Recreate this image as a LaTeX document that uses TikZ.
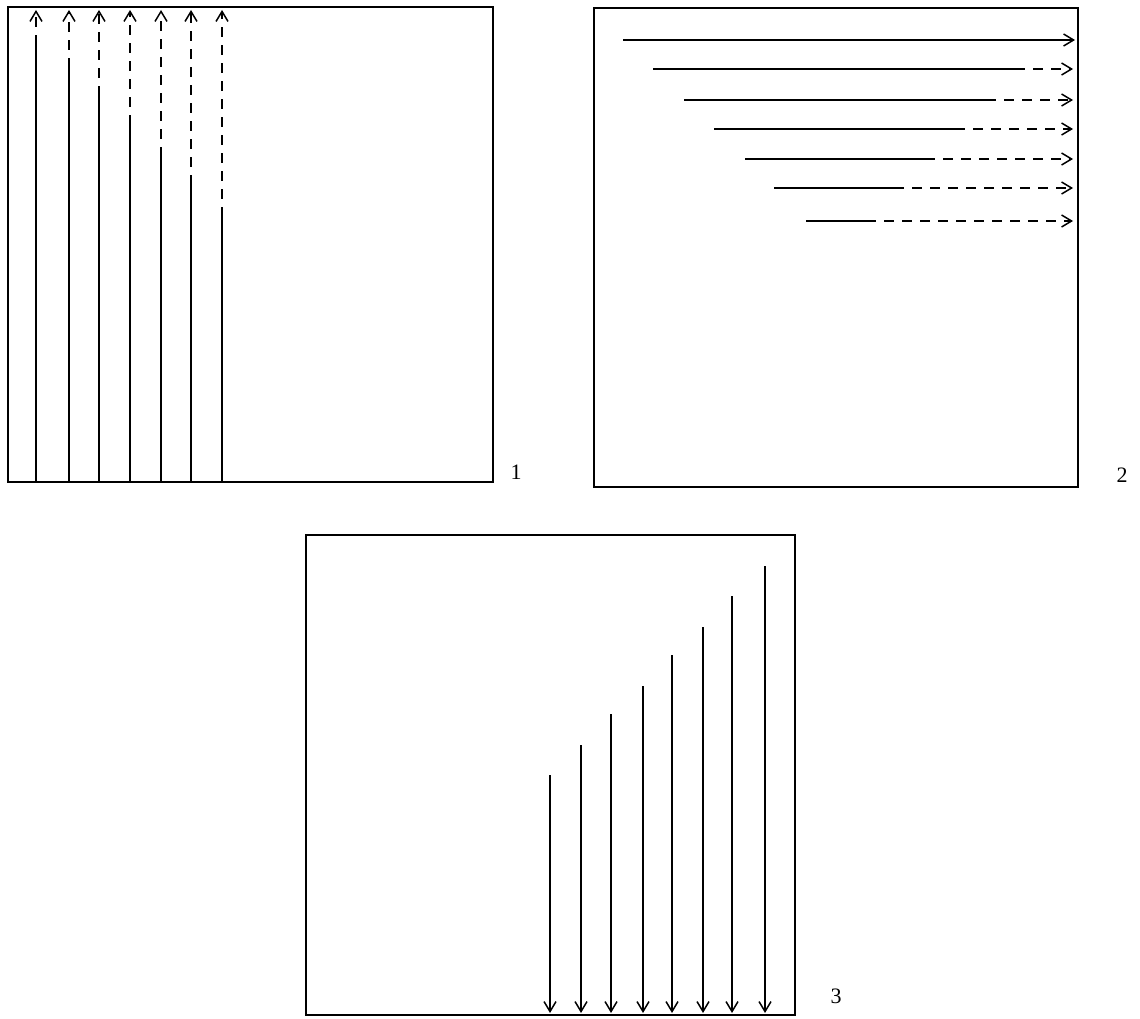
\documentclass[tikz,border=0pt]{standalone}
\usepackage{fontspec}
\setmainfont{Liberation Serif}
\usetikzlibrary{arrows.meta}
\begin{document}
\begin{tikzpicture}[x=1pt,y=-1pt,
  frame/.style={line width=1.6pt},
  ray/.style={line width=1.6pt},
  dray/.style={line width=1.6pt,dash pattern=on 10pt off 8pt,dash phase=10pt,-{Straight Barb[length=10pt,width=12pt,line width=1.5pt]}},
  sray/.style={line width=1.6pt,-{Straight Barb[length=10pt,width=12pt,line width=1.5pt]}},
  lbl/.style={inner sep=0pt,font=\fontsize{22}{26}\selectfont}]
\fill[white] (0,0) rectangle (1140,1019);
% Box 1
\draw[frame] (8,7) rectangle (493,482);
\node[lbl] (l1) at (516,472) {1};
\foreach \i/\x/\s in {1/36/35,2/69/58,3/99/86,4/130/115,5/161/147,6/191/175,7/222/207}{
  \coordinate (a\i) at (\x,482);
  \coordinate (b\i) at (\x,\s);
  \coordinate (c\i) at (\x,10);
  \draw[ray] (a\i) -- (b\i);
  \draw[dray] (b\i) -- (c\i);
}
% Box 2
\draw[frame] (594,8) rectangle (1078,487);
\node[lbl] (l2) at (1122,475) {2};
\coordinate (p1) at (623,40);
\coordinate (r1) at (1075,40);
\draw[sray] (p1) -- (r1);
\foreach \i/\y/\x/\e in {2/69/653/1025,3/100/684/996,4/129/714/965,5/159/745/935,6/188/774/904,7/221/806/876}{
  \coordinate (p\i) at (\x,\y);
  \coordinate (q\i) at (\e,\y);
  \coordinate (r\i) at (1073,\y);
  \draw[ray] (p\i) -- (q\i);
  \draw[dray] (q\i) -- (r\i);
}
% Box 3
\draw[frame] (306,535) rectangle (795,1015);
\node[lbl] (l3) at (836,996) {3};
\foreach \i/\x/\t in {1/550/775,2/581/745,3/611/714,4/643/686,5/672/655,6/703/627,7/732/596,8/765/566}{
  \coordinate (u\i) at (\x,\t);
  \coordinate (v\i) at (\x,1013);
  \draw[sray] (u\i) -- (v\i);
}
\end{tikzpicture}
\end{document}
